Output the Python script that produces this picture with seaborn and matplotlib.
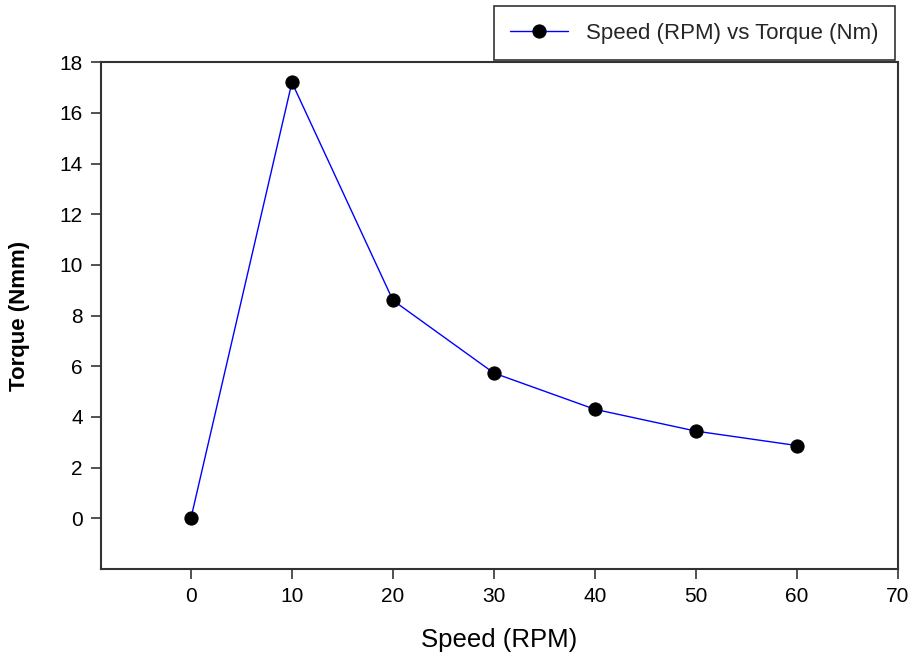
import matplotlib
matplotlib.use("Agg")
import matplotlib.pyplot as plt
import seaborn as sns
import pandas as pd

# data
speed_rpm = [0, 10, 20, 30, 40, 50, 60]
torque_nm = [0, 17.2, 8.6, 5.73, 4.3, 3.44, 2.87]
x_ticks = [0, 10, 20, 30, 40, 50, 60, 70]
y_ticks = [0, 2, 4, 6, 8, 10, 12, 14, 16, 18]
series_label = "Speed (RPM) vs Torque (Nm)"

sns.set_style("ticks")
plt.rcParams['font.family'] = ['Liberation Sans', 'DejaVu Sans']

df = pd.DataFrame({'Speed': speed_rpm, 'Torque': torque_nm})

fig = plt.figure(figsize=(9.15, 6.54), dpi=100)
ax = fig.add_axes([0.1104, 0.130, 0.871, 0.775])

sns.lineplot(data=df, x='Speed', y='Torque', ax=ax, color='blue', linewidth=1,
             marker='o', markersize=9.5, markerfacecolor='black',
             markeredgecolor='black', label=series_label, legend=False)

ax.set_xlim(-8.9, 70)
ax.set_ylim(-2, 18)
ax.set_xticks(x_ticks)
ax.set_yticks(y_ticks)
ax.tick_params(axis='both', labelsize=15, direction='out', length=7, width=1.2,
               colors='#333333', labelcolor='black', pad=6)
for s in ax.spines.values():
    s.set_linewidth(1.5)
    s.set_color('#333333')

ax.set_xlabel('Speed (RPM)', fontsize=18.5, labelpad=16, color='black')
ax.set_ylabel('Torque (Nmm)', fontsize=16, fontweight='bold', labelpad=21, color='black')

handles, labels = ax.get_legend_handles_labels()
leg = fig.legend(handles, labels, loc='upper right',
                 bbox_to_anchor=(895 / 915, 1 - 6 / 654),
                 borderaxespad=0, fontsize=16, frameon=True, fancybox=False,
                 borderpad=0.75, handlelength=2.6)
leg.get_frame().set_edgecolor('black')
leg.get_frame().set_linewidth(1.2)

fig.savefig('out.png', dpi=100)
plt.close(fig)
